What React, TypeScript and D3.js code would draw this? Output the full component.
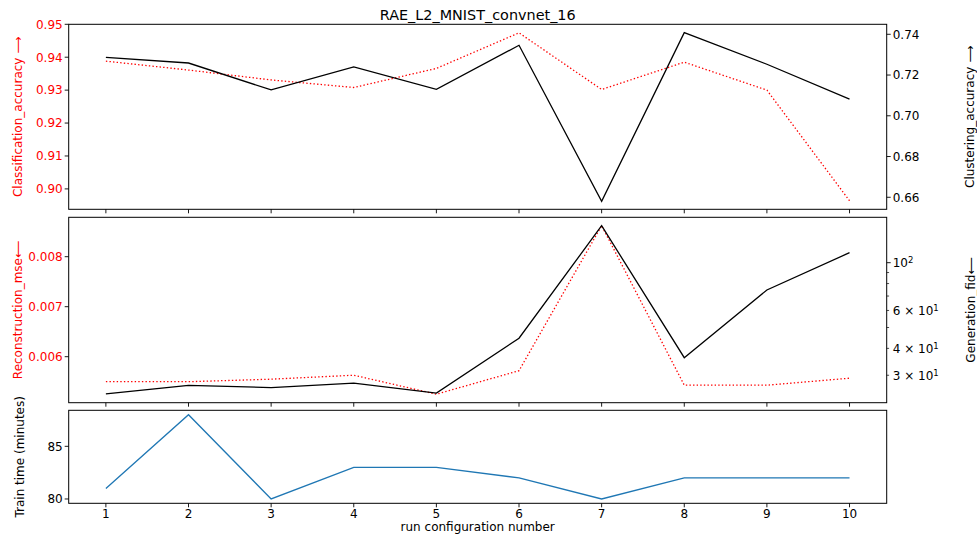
import React from 'react';
import * as d3 from 'd3';

const runs = [1, 2, 3, 4, 5, 6, 7, 8, 9, 10];
const classificationAccuracy = [0.9388, 0.9361, 0.9331, 0.9308, 0.9366, 0.9474, 0.9302, 0.9385, 0.93, 0.8964];
const clusteringAccuracy = [0.7287, 0.7259, 0.7127, 0.724, 0.713, 0.7346, 0.658, 0.7408, 0.7253, 0.7082];
const reconstructionMse = [0.0055, 0.0055, 0.00555, 0.00563, 0.00525, 0.00572, 0.00862, 0.00543, 0.00543, 0.00557];
const generationFid = [24.6, 26.9, 26.3, 27.6, 24.8, 44.6, 148.5, 36.2, 74.7, 111.3];
const trainTime = [81, 88, 80, 83, 83, 82, 80, 82, 82, 82];

const classTicks = [0.9, 0.91, 0.92, 0.93, 0.94, 0.95];
const clusterTicks = [0.66, 0.68, 0.7, 0.72, 0.74];
const mseTicks = [0.006, 0.007, 0.008];
const fidMinorTicks = [30, 40, 50, 60, 70, 80, 90];
const fidMajorTicks = [100];
const fidLabelValues = [100, 60, 40, 30];
const fidLabelMantissa = ['', '6 × ', '4 × ', '3 × '];
const fidLabelExponent = ['2', '1', '1', '1'];
const timeTicks = [80, 85];

const W = 977;
const H = 538;
const L = 68.7;
const R = 886.7;
const FONT = 'DejaVu Sans, sans-serif';
const FS = 12;

const x = d3.scaleLinear().domain([0.55, 10.45]).range([L, R]);
const topP = { y0: 24.3, y1: 209.3 };
const midP = { y0: 217.3, y1: 402.7 };
const botP = { y0: 410.3, y1: 503.3 };

const yClass = d3.scaleLinear().domain([0.8938, 0.95]).range([topP.y1, topP.y0]);
const yClust = d3.scaleLinear().domain([0.6541, 0.7449]).range([topP.y1, topP.y0]);
const yMse = d3.scaleLinear().domain([0.00508, 0.008788]).range([midP.y1, midP.y0]);
const yFid = d3.scaleLog().domain([22.37, 162.5]).range([midP.y1, midP.y0]);
const yTime = d3.scaleLinear().domain([79.59, 88.42]).range([botP.y1, botP.y0]);

function linePath(vals: number[], ys: (v: number) => number) {
  const g = d3
    .line<number>()
    .x((_, i) => x(runs[i]))
    .y((v) => ys(v));
  return g(vals) || '';
}

function Frame({ p }: { p: { y0: number; y1: number } }) {
  return <rect x={L} y={p.y0} width={R - L} height={p.y1 - p.y0} fill="none" stroke="#000" strokeWidth={1} />;
}

function XTicks({ p, labels }: { p: { y0: number; y1: number }; labels: boolean }) {
  return (
    <g>
      {runs.map((r) => (
        <g key={r}>
          <line x1={x(r)} x2={x(r)} y1={p.y1} y2={p.y1 + 4} stroke="#000" strokeWidth={0.9} />
          {labels && (
            <text x={x(r)} y={p.y1 + 14.2} fontSize={FS} textAnchor="middle" fontFamily={FONT} fill="#000">
              {r}
            </text>
          )}
        </g>
      ))}
    </g>
  );
}

function LeftTicks({ ticks, ys, fmt, color }: { ticks: number[]; ys: (v: number) => number; fmt: (v: number) => string; color: string }) {
  return (
    <g>
      {ticks.map((t) => (
        <g key={t}>
          <line x1={L - 4} x2={L} y1={ys(t)} y2={ys(t)} stroke="#000" strokeWidth={0.9} />
          <text x={L - 6} y={ys(t)} dy="0.36em" fontSize={FS} textAnchor="end" fontFamily={FONT} fill={color}>
            {fmt(t)}
          </text>
        </g>
      ))}
    </g>
  );
}

function VLabel({ cx, cy, text, color }: { cx: number; cy: number; text: string; color: string }) {
  return (
    <text
      transform={`translate(${cx},${cy}) rotate(-90)`}
      fontSize={FS}
      textAnchor="middle"
      dominantBaseline="central"
      fontFamily={FONT}
      fill={color}
    >
      {text}
    </text>
  );
}

export default function App() {
  const red = '#ff0000';
  return (
    <svg
      width={W}
      height={H}
      style={{ position: 'absolute', left: 0, top: 0, background: '#fff' }}
      xmlns="http://www.w3.org/2000/svg"
    >
      <rect x={0} y={0} width={W} height={H} fill="#fff" />
      <text x={(L + R) / 2} y={20} fontSize={14.4} textAnchor="middle" fontFamily={FONT} fill="#000">
        RAE_L2_MNIST_convnet_16
      </text>

      {/* Top panel */}
      <path d={linePath(classificationAccuracy, yClass)} fill="none" stroke={red} strokeWidth={1.3} strokeDasharray="1.4,2.2" />
      <path d={linePath(clusteringAccuracy, yClust)} fill="none" stroke="#000" strokeWidth={1.3} />
      <Frame p={topP} />
      <XTicks p={topP} labels={false} />
      <LeftTicks ticks={classTicks} ys={yClass} fmt={d3.format('.2f')} color={red} />
      {clusterTicks.map((t) => (
        <g key={t}>
          <line x1={R} x2={R + 4} y1={yClust(t)} y2={yClust(t)} stroke="#000" strokeWidth={0.9} />
          <text x={R + 6} y={yClust(t)} dy="0.36em" fontSize={FS} fontFamily={FONT} fill="#000">
            {d3.format('.2f')(t)}
          </text>
        </g>
      ))}
      <VLabel cx={17.5} cy={(topP.y0 + topP.y1) / 2} text="Classification_accuracy ⟶" color={red} />
      <VLabel cx={970} cy={(topP.y0 + topP.y1) / 2} text="Clustering_accuracy ⟶" color="#000" />

      {/* Middle panel */}
      <path d={linePath(reconstructionMse, yMse)} fill="none" stroke={red} strokeWidth={1.3} strokeDasharray="1.4,2.2" />
      <path d={linePath(generationFid, yFid)} fill="none" stroke="#000" strokeWidth={1.3} />
      <Frame p={midP} />
      <XTicks p={midP} labels={false} />
      <LeftTicks ticks={mseTicks} ys={yMse} fmt={d3.format('.3f')} color={red} />
      {fidMajorTicks.map((t) => (
        <line key={'M' + t} x1={R} x2={R + 4} y1={yFid(t)} y2={yFid(t)} stroke="#000" strokeWidth={0.9} />
      ))}
      {fidMinorTicks.map((t) => (
        <line key={'m' + t} x1={R} x2={R + 2.4} y1={yFid(t)} y2={yFid(t)} stroke="#000" strokeWidth={0.7} />
      ))}
      {fidLabelValues.map((v, i) => (
        <text key={'l' + v} x={R + 6} y={yFid(v)} dy="0.36em" fontSize={FS} fontFamily={FONT} fill="#000">
          {fidLabelMantissa[i]}10
          <tspan dy="-0.45em" fontSize={8.5}>
            {fidLabelExponent[i]}
          </tspan>
        </text>
      ))}
      <VLabel cx={17.5} cy={(midP.y0 + midP.y1) / 2} text="Reconstruction_mse⟵" color={red} />
      <VLabel cx={970.5} cy={(midP.y0 + midP.y1) / 2} text="Generation_fid⟵" color="#000" />

      {/* Bottom panel */}
      <path d={linePath(trainTime, yTime)} fill="none" stroke="#1f77b4" strokeWidth={1.3} />
      <Frame p={botP} />
      <XTicks p={botP} labels={true} />
      <LeftTicks ticks={timeTicks} ys={yTime} fmt={(v) => String(v)} color="#000" />
      <VLabel cx={19.5} cy={(botP.y0 + botP.y1) / 2} text="Train time (minutes)" color="#000" />
      <text x={(L + R) / 2} y={531} fontSize={FS} textAnchor="middle" fontFamily={FONT} fill="#000">
        run configuration number
      </text>
    </svg>
  );
}
